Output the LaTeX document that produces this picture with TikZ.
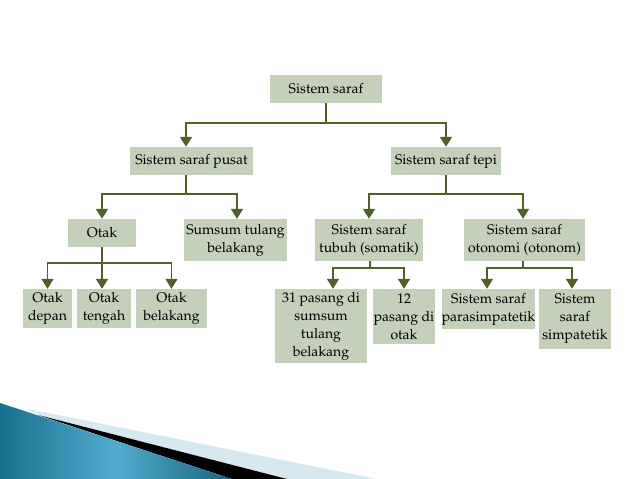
\documentclass[tikz,border=0pt]{standalone}
\usepackage[T1]{fontenc}
\usepackage{mathpazo}
\usetikzlibrary{arrows.meta}
\definecolor{boxc}{RGB}{197,208,186}
\definecolor{linec}{RGB}{79,97,40}
\definecolor{blueA}{RGB}{24,112,142}
\definecolor{blueB}{RGB}{82,172,206}
\definecolor{paleblue}{RGB}{214,232,240}
\tikzset{
  box/.style={fill=boxc, inner sep=0pt, align=center, text=black,
    font=\fontsize{14}{18}\selectfont},
  conn/.style={draw=linec, line width=1.8pt},
  arr/.style={conn, -{Triangle[width=12pt,length=10pt]}},
}
\begin{document}
\begin{tikzpicture}[x=1pt,y=-1pt]
\useasboundingbox (0,0) rectangle (638,479);
% decoration
\fill[paleblue] (28,409) -- (377,479) -- (287,479) -- (40,416) -- cycle;
\fill[black] (38,415) -- (287,479) -- (232,479) -- cycle;
\shade[left color=blueA, right color=blueA!90!black, middle color=blueB] (0,403) -- (232,479) -- (0,479) -- cycle;
% nodes
\node[box, minimum width=112pt, minimum height=28pt] (root) at (326,89) {Sistem saraf};
\node[box, minimum width=123pt, minimum height=28pt] (pusat) at (191.5,161) {Sistem saraf pusat};
\node[box, minimum width=110pt, minimum height=28pt] (tepi) at (446,161) {Sistem saraf tepi};
\node[box, minimum width=68pt, minimum height=28pt] (otak) at (102,233) {Otak};
\node[box, minimum width=103pt, minimum height=42pt] (sumsum) at (235.5,240) {Sumsum tulang\\belakang};
\node[box, minimum width=108pt, minimum height=42pt] (somatik) at (369,240) {Sistem saraf\\tubuh (somatik)};
\node[box, minimum width=121pt, minimum height=42pt] (otonom) at (524.5,240) {Sistem saraf\\otonomi (otonom)};
\node[box, minimum width=49pt, minimum height=39pt] (depan) at (47.5,308.5) {Otak\\depan};
\node[box, minimum width=54pt, minimum height=39pt] (tengah) at (104,308.5) {Otak\\tengah};
\node[box, minimum width=71pt, minimum height=39pt] (belakang) at (171.5,308.5) {Otak\\belakang};
\node[box, minimum width=92pt, minimum height=74pt] (p31) at (321,326) {31 pasang di\\sumsum\\tulang\\belakang};
\node[box, minimum width=62pt, minimum height=55pt] (p12) at (404,316.5) {12\\pasang di\\otak};
\node[box, minimum width=91pt, minimum height=40pt] (para) at (488.5,309) {Sistem saraf\\parasimpatetik};
\node[box, minimum width=72pt, minimum height=60pt] (simp) at (575,319) {Sistem\\saraf\\simpatetik};
% connectors
\draw[conn] (root.south) -- ++(0,20) coordinate (b1);
\draw[arr] (b1) -| ([xshift=-5.5pt]pusat.north);
\draw[arr] (b1) -| (tepi.north);
\draw[conn] ([xshift=-5.5pt]pusat.south) -- ++(0,19) coordinate (b2);
\draw[arr] (b2) -| (otak.north);
\draw[arr] (b2) -| ([xshift=1.5pt]sumsum.north);
\draw[conn] (tepi.south) -- ++(0,19) coordinate (b3);
\draw[arr] (b3) -| (somatik.north);
\draw[arr] (b3) -| ([xshift=-1.5pt]otonom.north);
\draw[conn] (otak.south) -- ++(0,16) coordinate (b4);
\draw[arr] (b4) -| (depan.north);
\draw[arr] (b4) -- (b4 |- tengah.north);
\draw[arr] (b4) -| (belakang.north);
\draw[conn] ([xshift=1pt]somatik.south) -- ++(0,7) coordinate (b5);
\draw[arr] (b5) -| ([xshift=12pt]p31.north);
\draw[arr] (b5) -| (p12.north);
\draw[conn] ([xshift=-1.5pt]otonom.south) -- ++(0,7) coordinate (b6);
\draw[arr] (b6) -| ([xshift=-1.5pt]para.north);
\draw[arr] (b6) -| ([xshift=-3pt]simp.north);
\end{tikzpicture}
\end{document}
